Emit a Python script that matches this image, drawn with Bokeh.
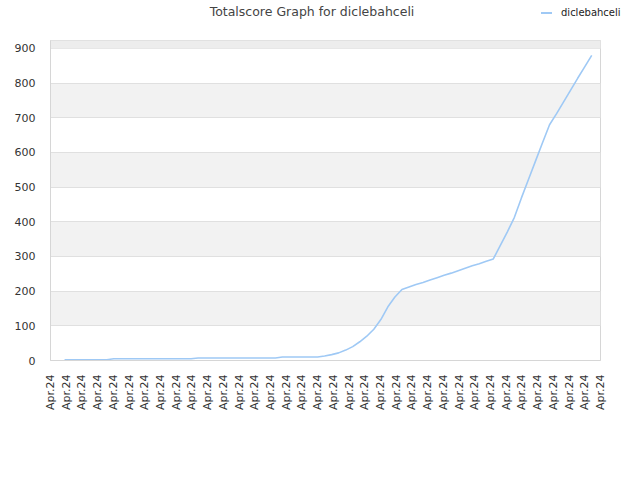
import numpy as np
from bokeh.plotting import figure
from bokeh.layouts import column
from bokeh.models import (FixedTicker, CustomJSTickFormatter, Range1d, BoxAnnotation, Div)
from bokeh.embed import file_html
from bokeh.resources import INLINE

title_text = "Totalscore Graph for diclebahceli"
series_name = "diclebahceli"
x_labels = ["Apr.24"] * 36
y_ticks = [0, 100, 200, 300, 400, 500, 600, 700, 800, 900]
y_max = 923

scores = [
    2, 2, 2, 2, 2, 2, 2,
    5, 5, 5, 5, 5, 5, 5, 5, 5, 5, 5, 5,
    7, 7, 7, 7, 7, 7, 7, 7, 7, 7, 7, 7,
    10, 10, 10, 10, 10, 10,
    13, 17, 22, 30, 40, 54, 70, 90, 118, 155, 183, 205,
    212, 219, 225, 232, 239, 246, 252, 259, 266, 273, 279, 286, 293,
    332, 371, 413, 469, 522, 575, 628, 680,
    712, 746, 780, 814, 847, 880,
]
days = list(range(len(scores)))
line_color = "#9fc9f5"

# ---------- header: title + legend (HTML text) ----------
header_html = f"""
<div style="position:relative;width:640px;height:39px;font-family:'DejaVu Sans',sans-serif;">
  <div style="position:absolute;left:0px;width:624px;top:4px;text-align:center;
              font-size:12.5px;line-height:15px;color:#444444;white-space:nowrap;">{title_text}</div>
  <div style="position:absolute;left:541px;top:12px;width:11px;height:2px;
              background:{line_color};"></div>
  <div style="position:absolute;left:561px;top:7px;font-size:10px;line-height:12px;
              color:#222222;white-space:nowrap;">{series_name}</div>
</div>
"""
header = Div(text=header_html, width=640, height=39, margin=0)

# ---------- main chart ----------
x_start, x_end = -2.0, 76.25
p = figure(width=640, height=441, output_backend="svg", toolbar_location=None,
           x_range=Range1d(x_start, x_end), y_range=Range1d(0, y_max),
           min_border_left=50, min_border_right=40, min_border_top=1, min_border_bottom=120,
           background_fill_color="white", border_fill_color="white", margin=0)

p.outline_line_color = "#d6d6d6"
p.outline_line_width = 1

p.xgrid.visible = False
p.ygrid.ticker = FixedTicker(ticks=y_ticks)
p.ygrid.grid_line_color = "#e0e0e0"
p.ygrid.band_fill_color = "#f2f2f2"
p.ygrid.band_fill_alpha = 1.0
p.add_layout(BoxAnnotation(bottom=y_ticks[-1], top=y_max, fill_color="#ededed",
                           fill_alpha=1.0, line_color=None, level="underlay"))

p.yaxis.ticker = FixedTicker(ticks=y_ticks)
p.yaxis.major_tick_line_color = None
p.yaxis.minor_tick_line_color = None
p.yaxis.axis_line_color = "#d6d6d6"
p.yaxis.major_label_text_font = "DejaVu Sans"
p.yaxis.major_label_text_font_size = "11px"
p.yaxis.major_label_text_color = "#333333"
p.yaxis.major_label_standoff = 9

xt = list(np.linspace(x_start, x_end, len(x_labels)))
p.xaxis.ticker = FixedTicker(ticks=xt)
p.xaxis.formatter = CustomJSTickFormatter(args=dict(labels=x_labels),
                                          code="return labels[index] || '';")
p.xaxis.major_label_orientation = np.pi / 2
p.xaxis.major_tick_line_color = None
p.xaxis.minor_tick_line_color = None
p.xaxis.axis_line_color = "#d6d6d6"
p.xaxis.major_label_text_font = "DejaVu Sans"
p.xaxis.major_label_text_font_size = "11px"
p.xaxis.major_label_text_color = "#333333"
p.xaxis.major_label_standoff = 8

p.line(days, scores, line_color=line_color, line_width=1.6)

layout = column(header, p, spacing=0)
open("out.html", "w").write(file_html(layout, INLINE))
